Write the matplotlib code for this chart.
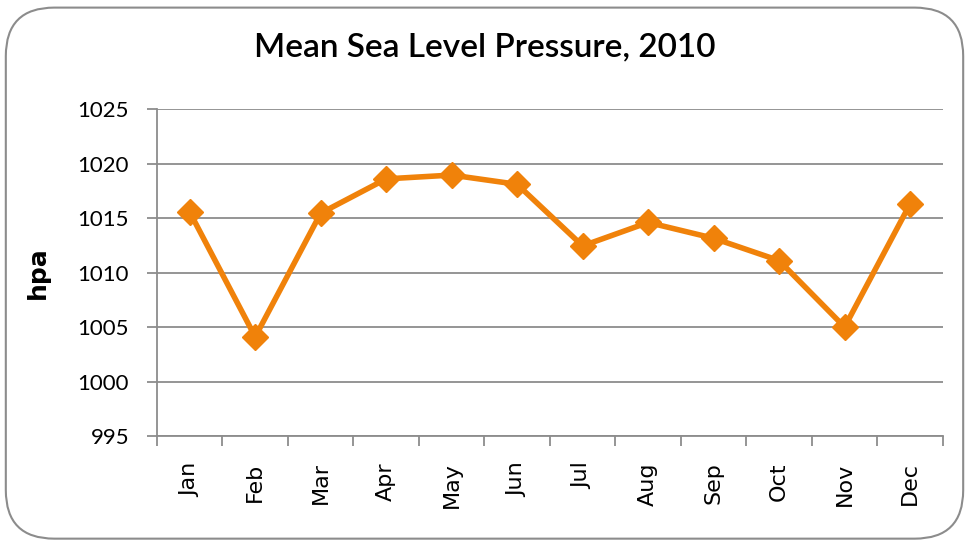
import matplotlib
matplotlib.use("Agg")
import matplotlib.pyplot as plt
from matplotlib.patches import FancyBboxPatch

months = ["Jan", "Feb", "Mar", "Apr", "May", "Jun",
          "Jul", "Aug", "Sep", "Oct", "Nov", "Dec"]
pressure = [1015.55, 1004.1, 1015.45, 1018.6, 1018.95, 1018.1,
            1012.45, 1014.6, 1013.15, 1011.1, 1005.0, 1016.3]
yticks = [995, 1000, 1005, 1010, 1015, 1020, 1025]

orange = "#F0820A"
grey = "#8c8c8c"

fig = plt.figure(figsize=(9.69, 5.43), dpi=100)

# rounded frame round the chart
frame = FancyBboxPatch((0.006, 0.008), 0.988, 0.978,
                       boxstyle="round,pad=0,rounding_size=0.05",
                       transform=fig.transFigure, fill=False,
                       edgecolor=grey, linewidth=1.5, mutation_aspect=969/543)
fig.patches.append(frame)

ax = fig.add_axes([0.162, 0.197, 0.811, 0.602])
x = list(range(len(months)))
ax.plot(x, pressure, color=orange, linewidth=4, marker="D",
        markersize=13, zorder=3)

ax.set_xlim(-0.5, 11.5)
ax.set_ylim(995, 1025)
ax.set_yticks(yticks)
ax.set_yticklabels([str(v) for v in yticks], fontsize=16, family="Lato")
ax.set_xticks(x)
ax.set_xticklabels(months, rotation=90, fontsize=16)
ax.set_xticks([i - 0.5 for i in range(13)], minor=True)
ax.tick_params(axis="x", which="major", length=0, pad=19)
ax.tick_params(axis="x", which="minor", length=7, color=grey, width=1.3)
ax.tick_params(axis="y", length=7, color=grey, width=1.3, pad=13)

ax.grid(axis="y", color=grey, linewidth=1.3)
ax.set_axisbelow(True)
for s in ["top", "right"]:
    ax.spines[s].set_visible(False)
for s in ["left", "bottom"]:
    ax.spines[s].set_color(grey)
    ax.spines[s].set_linewidth(1.3)

ax.set_ylabel("hpa", fontsize=18, fontweight="bold", labelpad=20)
fig.text(0.5, 0.912, "Mean Sea Level Pressure, 2010", ha="center",
         va="center", fontsize=24, family="Lato", fontweight="semibold")

fig.savefig("out.png", dpi=100)
